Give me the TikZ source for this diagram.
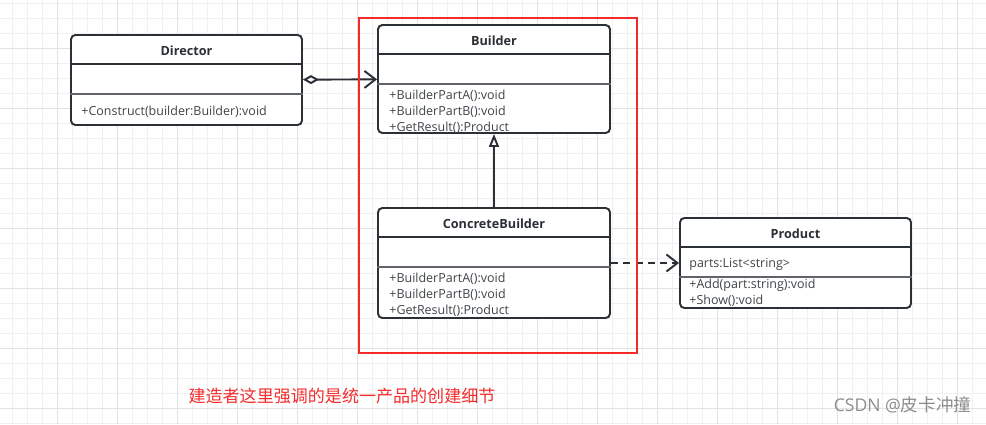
\documentclass[tikz,border=0pt]{standalone}
\usepackage{fontspec}
\setmainfont{Open Sans}
\newfontfamily\cjk{Noto Sans CJK SC}
\usetikzlibrary{arrows.meta}

\definecolor{umlline}{HTML}{2B3036}
\definecolor{gridminor}{HTML}{F0F0F0}
\definecolor{gridmajor}{HTML}{E2E2E2}
\definecolor{notered}{HTML}{F42B2B}

\tikzset{
	classbox/.style={draw=umlline, line width=1.1pt, rounded corners=2.5pt, fill=white,
		inner sep=0pt, minimum width=4.62cm},
	classname/.style={font=\bfseries\fontsize{7.2}{8}\selectfont, text=umlline, inner sep=0pt},
	member/.style={anchor=west, font=\fontsize{7.1}{8}\selectfont, text=umlline!90, inner sep=0pt},
	headline/.style={draw=umlline, line width=1.1pt},
	sepline/.style={draw=umlline!75, line width=0.8pt},
	relation/.style={draw=umlline, line width=1.1pt},
}

\begin{document}
\begin{tikzpicture}
		\useasboundingbox (0,0) rectangle (19.72,-8.48);
		% grid
		\draw[gridminor, line width=0.5pt, step=0.3cm, shift={(0.24,-0.06)}] (-0.24,-8.42) grid (19.48,0.06);
		\draw[gridmajor, line width=0.5pt, step=1.2cm, shift={(1.14,-0.96)}] (-1.14,-7.52) grid (18.58,0.96);

		% classes
		\node[classbox, minimum height=1.80cm] (director) at (3.73,-1.60) {};
		\node[classbox, minimum width=4.64cm, minimum height=2.16cm] (builder) at (9.88,-1.58) {};
		\node[classbox, minimum width=4.64cm, minimum height=2.20cm] (cbuilder) at (9.88,-5.26) {};
		\node[classbox, minimum height=1.80cm] (product) at (15.91,-5.26) {};

		\foreach \c in {director,builder,cbuilder,product} {
			\draw[headline] ([yshift=-0.6cm]\c.north west) -- ([yshift=-0.6cm]\c.north east);
			\draw[sepline] ([yshift=-1.2cm]\c.north west) -- ([yshift=-1.2cm]\c.north east);
		}

		\node[classname] (directorname) at ([yshift=-0.33cm]director.north) {Director};
		\node[member] (construct) at ([xshift=0.22cm,yshift=-1.55cm]director.north west) {+Construct(builder:Builder):void};

		\node[classname] (buildername) at ([yshift=-0.33cm]builder.north) {Builder};
		\node[member] (bparta) at ([xshift=0.24cm,yshift=-1.43cm]builder.north west) {+BuilderPartA():void};
		\node[member] (bpartb) at ([xshift=0.24cm,yshift=-1.75cm]builder.north west) {+BuilderPartB():void};
		\node[member] (bresult) at ([xshift=0.24cm,yshift=-2.07cm]builder.north west) {+GetResult():Product};

		\node[classname] (cbuildername) at ([yshift=-0.33cm]cbuilder.north) {ConcreteBuilder};
		\node[member] (cbparta) at ([xshift=0.24cm,yshift=-1.43cm]cbuilder.north west) {+BuilderPartA():void};
		\node[member] (cbpartb) at ([xshift=0.24cm,yshift=-1.75cm]cbuilder.north west) {+BuilderPartB():void};
		\node[member] (cbresult) at ([xshift=0.24cm,yshift=-2.07cm]cbuilder.north west) {+GetResult():Product};

		\node[classname] (productname) at ([yshift=-0.33cm]product.north) {Product};
		\node[member] (parts) at ([xshift=0.20cm,yshift=-0.95cm]product.north west) {parts:List<string>};
		\node[member] (add) at ([xshift=0.20cm,yshift=-1.36cm]product.north west) {+Add(part:string):void};
		\node[member] (show) at ([xshift=0.20cm,yshift=-1.68cm]product.north west) {+Show():void};

		% relations
		\path[relation, {Diamond[open,length=0.32cm,width=0.18cm]}-{Straight Barb[length=0.22cm,width=0.34cm]}] (director) edge (builder);
		\path[relation, -{Triangle[open,length=0.26cm,width=0.20cm]}] (cbuilder) edge (builder);
		\path[relation, dash pattern=on 4pt off 3pt, -{Straight Barb[length=0.22cm,width=0.34cm]}] (cbuilder) edge (product);

		% red frame and note
		\node[draw=notered, line width=1pt, minimum width=5.56cm, minimum height=6.70cm] (focus) at (9.96,-3.71) {};
		\node[text=notered, font=\cjk\fontsize{9.7}{11}\selectfont] (note) at (6.84,-7.92) {建造者这里强调的是统一产品的创建细节};
		\node[text=black!45, font=\fontsize{10}{11}\selectfont] (mark) at (18.05,-8.10) {CSDN @{\cjk 皮卡冲撞}};
	\end{tikzpicture}
\end{document}
